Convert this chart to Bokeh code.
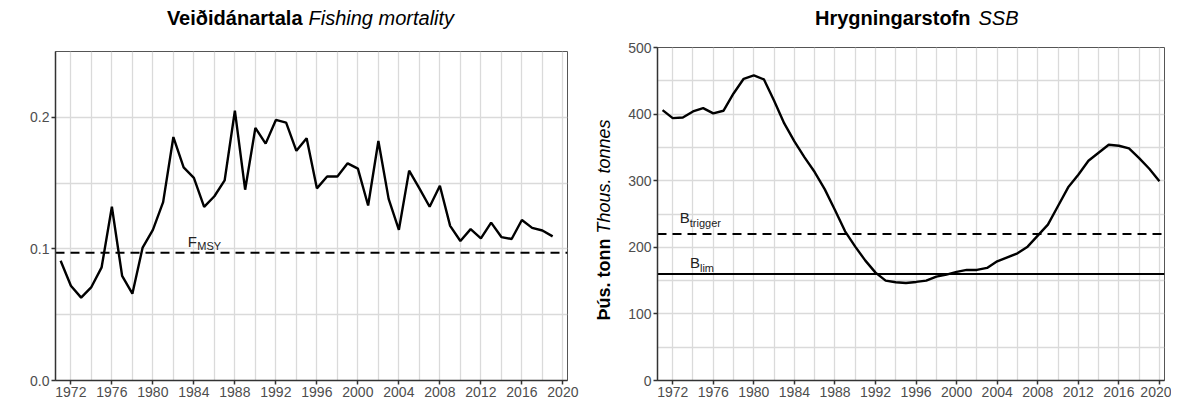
import math
from bokeh.plotting import figure
from bokeh.layouts import row, column
from bokeh.models import FixedTicker, Range1d
from bokeh.core.properties import value
from bokeh.embed import file_html
from bokeh.resources import INLINE

# ---------------- data ----------------
years_f = list(range(1971, 2020))
fishing_mortality = [0.091, 0.072, 0.063, 0.071, 0.086, 0.132, 0.0795, 0.066, 0.101, 0.1145,
                     0.1355, 0.185, 0.162, 0.154, 0.132, 0.140, 0.152, 0.205, 0.145, 0.192,
                     0.180, 0.198, 0.196, 0.1745, 0.184, 0.146, 0.155, 0.155, 0.165, 0.161,
                     0.133, 0.182, 0.138, 0.1145, 0.1595, 0.146, 0.132, 0.148, 0.1175, 0.106,
                     0.115, 0.108, 0.120, 0.109, 0.1075, 0.122, 0.116, 0.114, 0.1095]
f_msy = 0.097

years_ssb = list(range(1971, 2021))
ssb = [406, 394, 395, 404, 409, 401, 405, 431, 453, 458,
       452, 420, 386, 359, 335, 313, 287, 256, 224, 201,
       180, 162, 150, 147.5, 146.5, 148, 150, 156, 159, 163,
       166, 166, 169, 179, 185, 191, 201, 217.5, 234, 262,
       290, 309, 330, 342, 354, 352.5, 348.5, 334, 318, 299]
b_trigger = 220
b_lim = 160

x_major = list(range(1972, 2021, 4))
x_minor = list(range(1974, 2021, 4))
f_major = [0.0, 0.1, 0.2]
f_minor = [0.05, 0.15]
ssb_major = [0, 100, 200, 300, 400, 500]
ssb_minor = [50, 150, 250, 350, 450]

title_f_bold, title_f_it = "Veiðidánartala", "Fishing mortality"
title_s_bold, title_s_it = "Hrygningarstofn", "SSB"
ylab_bold, ylab_it = "Þús. tonn", "Thous. tonnes"

FONT = "Liberation Sans"
GRID = "#dadada"
TICKTXT = "#4d4d4d"
X0, X1 = 1970.5, 2020.45


def style(p, xt, yt):
    p.background_fill_color = "white"
    p.border_fill_color = "white"
    p.outline_line_color = "#555555"
    p.outline_line_width = 1
    p.xaxis.ticker = xt
    p.yaxis.ticker = yt
    for ax in (p.xaxis[0], p.yaxis[0]):
        ax.axis_line_color = "#333333"
        ax.axis_line_width = 1.5
        ax.major_tick_line_color = "#333333"
        ax.major_tick_line_width = 1.5
        ax.major_tick_out = 4
        ax.major_tick_in = 0
        ax.minor_tick_line_color = None
        ax.major_label_text_font = FONT
        ax.major_label_text_font_size = "14px"
        ax.major_label_text_color = TICKTXT
        ax.major_label_standoff = 2
    for g in (p.xgrid[0], p.ygrid[0]):
        g.grid_line_color = GRID
        g.grid_line_width = 1.3
        g.minor_grid_line_color = GRID
        g.minor_grid_line_width = 1.3


def txt(p, x, y, text, size, dx=0, dy=0, style_="normal", align="left", angle=0.0,
        color="#222222", level="glyph"):
    p.text(x=[x], y=[y], text=[text], x_offset=dx, y_offset=dy, angle=angle,
           text_font=value(FONT), text_font_size=value(size), text_font_style=value(style_),
           text_color=color, text_align=value(align), text_baseline=value("middle"),
           level=level)


# ---------------- left: fishing mortality ----------------
p1 = figure(width=590, height=401, min_border_left=55, min_border_right=23,
            min_border_top=51, min_border_bottom=21,
            x_range=Range1d(X0, X1), y_range=Range1d(0, 0.25),
            output_backend="svg", toolbar_location=None)
style(p1, FixedTicker(ticks=x_major, minor_ticks=x_minor),
      FixedTicker(ticks=f_major, minor_ticks=f_minor))
p1.yaxis.major_label_overrides = {0.0: "0.0", 0.1: "0.1", 0.2: "0.2"}

p1.line([X0, X1], [f_msy, f_msy], line_color="black", line_width=2, line_dash="9 6")
p1.line(years_f, fishing_mortality, line_color="black", line_width=2.4)
txt(p1, 1983.4, f_msy, "F", "15px", dy=-11)
txt(p1, 1983.4, f_msy, "MSY", "11px", dx=9.5, dy=-6.6)

# titles (anchored to the frame's top-left corner, offset in pixels)
txt(p1, X0, 0.25, title_f_bold, "20px", dx=247, dy=-33.5, style_="bold", align="right",
    color="black", level="overlay")
txt(p1, X0, 0.25, title_f_it, "20px", dx=253, dy=-33.5, style_="italic", align="left",
    color="black", level="overlay")

# ---------------- right: SSB ----------------
p2 = figure(width=581, height=401, min_border_left=67, min_border_right=7,
            min_border_top=47, min_border_bottom=21,
            x_range=Range1d(1970.5, 2020.5), y_range=Range1d(0, 500),
            output_backend="svg", toolbar_location=None)
style(p2, FixedTicker(ticks=x_major, minor_ticks=x_minor),
      FixedTicker(ticks=ssb_major, minor_ticks=ssb_minor))

p2.line([1970.5, 2020.5], [b_trigger, b_trigger], line_color="black", line_width=2, line_dash="9 6")
p2.line([1970.5, 2020.5], [b_lim, b_lim], line_color="black", line_width=2)
p2.line(years_ssb, ssb, line_color="black", line_width=2.4)

txt(p2, 1972.7, b_trigger, "B", "15px", dy=-16)
txt(p2, 1972.7, b_trigger, "trigger", "11px", dx=10, dy=-10.6)
txt(p2, 1973.7, b_lim, "B", "15px", dy=-11.3)
txt(p2, 1973.7, b_lim, "lim", "11px", dx=10, dy=-5.8)

txt(p2, 1970.5, 500, title_s_bold, "20px", dx=313, dy=-29.5, style_="bold", align="right",
    color="black", level="overlay")
txt(p2, 1970.5, 500, title_s_it, "20px", dx=321, dy=-29.5, style_="italic", align="left",
    color="black", level="overlay")
txt(p2, 1970.5, 500, ylab_bold, "18px", dx=-54, dy=273, style_="bold", align="left",
    angle=math.pi / 2, color="black", level="overlay")
txt(p2, 1970.5, 500, ylab_it, "18px", dx=-54, dy=186, style_="italic", align="left",
    angle=math.pi / 2, color="black", level="overlay")

layout = row(column(p1), column(p2))
open("out.html", "w").write(file_html(layout, INLINE))
